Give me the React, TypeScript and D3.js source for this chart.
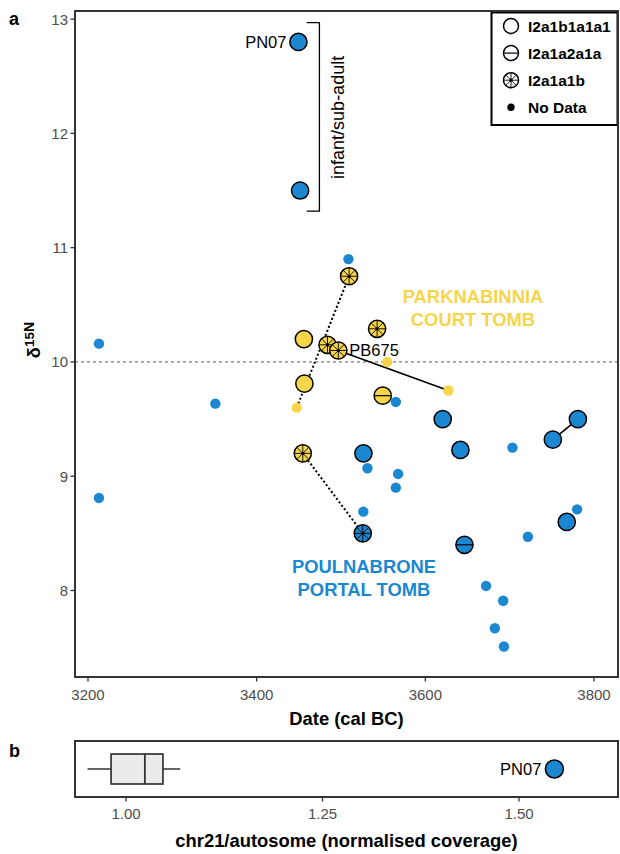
import React from 'react';
import * as d3 from 'd3';

const BLUE = '#1B87D0';
const YELLOW = '#F6D54B';

const HAPLOGROUPS = ['I2a1b1a1a1', 'I2a1a2a1a', 'I2a1a1b', 'No Data'];
const X_TICKS = [3200, 3400, 3600, 3800];
const Y_TICKS = [8, 9, 10, 11, 12, 13];
const B_TICKS = [1.0, 1.25, 1.5];

// Poulnabrone portal tomb: [date cal BC, δ15N, haplogroup]
const poulnabrone: [number, number, string][] = [
  [3449.5, 12.8, 'I2a1b1a1a1'],
  [3451.5, 11.5, 'I2a1b1a1a1'],
  [3526.6, 9.2, 'I2a1b1a1a1'],
  [3620.6, 9.5, 'I2a1b1a1a1'],
  [3641.6, 9.23, 'I2a1b1a1a1'],
  [3751.2, 9.32, 'I2a1b1a1a1'],
  [3780.9, 9.5, 'I2a1b1a1a1'],
  [3767.7, 8.6, 'I2a1b1a1a1'],
  [3646.4, 8.4, 'I2a1a2a1a'],
  [3525.8, 8.5, 'I2a1a1b'],
  [3213, 10.16, 'No Data'],
  [3351, 9.635, 'No Data'],
  [3213, 8.81, 'No Data'],
  [3508.8, 10.9, 'No Data'],
  [3565, 9.65, 'No Data'],
  [3531.4, 9.07, 'No Data'],
  [3567.7, 9.02, 'No Data'],
  [3565, 8.9, 'No Data'],
  [3526.5, 8.69, 'No Data'],
  [3703.3, 9.25, 'No Data'],
  [3780, 8.71, 'No Data'],
  [3721.6, 8.47, 'No Data'],
  [3672, 8.04, 'No Data'],
  [3692.3, 7.91, 'No Data'],
  [3682.4, 7.67, 'No Data'],
  [3693.2, 7.51, 'No Data'],
];

// Parknabinnia court tomb: [date cal BC, δ15N, haplogroup]
const parknabinnia: [number, number, string][] = [
  [3456, 10.2, 'I2a1b1a1a1'],
  [3456.6, 9.81, 'I2a1b1a1a1'],
  [3549.5, 9.705, 'I2a1a2a1a'],
  [3509.6, 10.75, 'I2a1a1b'],
  [3542.8, 10.29, 'I2a1a1b'],
  [3484, 10.15, 'I2a1a1b'],
  [3496.8, 10.1, 'I2a1a1b'],
  [3454.7, 9.2, 'I2a1a1b'],
  [3554.7, 10.0, 'No Data'],
  [3627.4, 9.75, 'No Data'],
  [3447.5, 9.6, 'No Data'],
];

// links between samples: [siteA, idxA, siteB, idxB, style]
const links: [string, number, string, number, string][] = [
  ['PB', 10, 'PB', 3, 'dotted'],
  ['PB', 6, 'PB', 9, 'solid'],
  ['PB', 7, 'PN', 9, 'dotted'],
  ['PN', 5, 'PN', 6, 'solid'],
];

// point labels: [site, idx, text]
const pointLabels: [string, number, string][] = [
  ['PN', 0, 'PN07'],
  ['PB', 6, 'PB675'],
];

// panel b: chr21/autosome box stats
const boxStats = { lo: 0.951, q1: 0.981, median: 1.024, q3: 1.047, hi: 1.069 };
const pn07Coverage = 1.545;

const SANS = 'Liberation Sans, Arial, Helvetica, sans-serif';
const AX = { left: 75, right: 618, top: 11, bottom: 677 };
const BX = { left: 75, right: 618, top: 741, bottom: 797 };

function Sym({ cx, cy, r, hg, fill }: any) {
  if (hg === 'No Data') return <circle cx={cx} cy={cy} r={r} fill={fill} />;
  const inner = r - 0.6;
  return (
    <g>
      <circle cx={cx} cy={cy} r={r} fill={fill} stroke="#000" strokeWidth={1.5} />
      {hg === 'I2a1a2a1a' && (
        <line x1={cx - inner} x2={cx + inner} y1={cy} y2={cy} stroke="#000" strokeWidth={1.2} />
      )}
      {hg === 'I2a1a1b' && (
        <g>
          {[0, 45, 90, 135].map((a) => {
            const rad = (a * Math.PI) / 180;
            const dx = Math.cos(rad) * inner;
            const dy = Math.sin(rad) * inner;
            return (
              <line key={a} x1={cx - dx} y1={cy - dy} x2={cx + dx} y2={cy + dy} stroke="#000" strokeWidth={0.9} />
            );
          })}
          <circle cx={cx} cy={cy} r={1.6} fill="#000" />
        </g>
      )}
    </g>
  );
}

export default function App() {
  const x = d3.scaleLinear().domain([3200, 3800]).range([88, 594]);
  const y = d3.scaleLinear().domain([8, 13]).range([590.5, 19.1]);
  const xb = d3.scaleLinear().domain([1, 1.5]).range([126, 519]);

  const site = (s: string) => (s === 'PN' ? poulnabrone : parknabinnia);
  const col = (s: string) => (s === 'PN' ? BLUE : YELLOW);

  const all: any[] = [];
  poulnabrone.forEach((d, i) => all.push({ s: 'PN', i, d }));
  parknabinnia.forEach((d, i) => all.push({ s: 'PB', i, d }));
  const small = all.filter((p) => p.d[2] === 'No Data');
  const large = all.filter((p) => p.d[2] !== 'No Data');
  // PB675 on top
  large.sort((a, b) => (a.s === 'PB' && a.i === 6 ? 1 : 0) - (b.s === 'PB' && b.i === 6 ? 1 : 0));

  const midB = (BX.top + BX.bottom) / 2;

  return (
    <svg width={620} height={854} style={{ position: 'absolute', left: 0, top: 0 }} fontFamily={SANS}>
      <rect x={0} y={0} width={620} height={854} fill="#fff" />
      {/* panel labels */}
      <text x={9} y={25} fontSize={18} fontWeight="bold">a</text>
      <text x={9} y={757} fontSize={18} fontWeight="bold">b</text>

      {/* reference line */}
      <line x1={AX.left} x2={AX.right} y1={y(10)} y2={y(10)} stroke="#7f7f7f" strokeWidth={1.3} strokeDasharray="3,3" />

      {/* bracket */}
      <path
        d={`M${x(3459.4)},${y(12.97)}H${x(3474.4)}V${y(11.32)}H${x(3459.4)}`}
        fill="none"
        stroke="#000"
        strokeWidth={1.3}
      />
      <text
        transform={`translate(${x(3496.9)},${y(12.14)}) rotate(-90)`}
        textAnchor="middle"
        dominantBaseline="central"
        fontSize={18}
      >
        infant/sub-adult
      </text>

      {/* links */}
      {links.map(([sa, ia, sb, ib, st], k) => {
        const a = site(sa)[ia];
        const b = site(sb)[ib];
        return (
          <line
            key={k}
            x1={x(a[0])}
            y1={y(a[1])}
            x2={x(b[0])}
            y2={y(b[1])}
            stroke="#000"
            strokeWidth={st === 'dotted' ? 2 : 1.7}
            strokeDasharray={st === 'dotted' ? '2,2.3' : undefined}
          />
        );
      })}

      {/* points */}
      {small.map((p, k) => (
        <Sym key={'s' + k} cx={x(p.d[0])} cy={y(p.d[1])} r={5.2} hg={p.d[2]} fill={col(p.s)} />
      ))}
      {large.map((p, k) => (
        <Sym key={'l' + k} cx={x(p.d[0])} cy={y(p.d[1])} r={8.6} hg={p.d[2]} fill={col(p.s)} />
      ))}

      {/* point labels */}
      {pointLabels.map(([s, i, t]) => {
        const d = site(s)[i];
        const isLeft = t === 'PN07';
        return (
          <text
            key={t}
            x={isLeft ? x(d[0]) - 12 : x(d[0]) + 11}
            y={y(d[1]) + (isLeft ? 0 : -1)}
            textAnchor={isLeft ? 'end' : 'start'}
            dominantBaseline="central"
            fontSize={16.5}
          >
            {t}
          </text>
        );
      })}

      {/* site labels */}
      <text x={473} y={303} textAnchor="middle" fontSize={18.4} fontWeight="bold" fill={YELLOW}>
        PARKNABINNIA
      </text>
      <text x={473} y={326} textAnchor="middle" fontSize={18.4} fontWeight="bold" fill={YELLOW}>
        COURT TOMB
      </text>
      <text x={364} y={573} textAnchor="middle" fontSize={18.4} fontWeight="bold" fill={BLUE}>
        POULNABRONE
      </text>
      <text x={364} y={596} textAnchor="middle" fontSize={18.4} fontWeight="bold" fill={BLUE}>
        PORTAL TOMB
      </text>

      {/* legend */}
      <rect x={491.5} y={12.5} width={126} height={112.5} fill="#fff" stroke="#000" strokeWidth={2} />
      {HAPLOGROUPS.map((h, k) => {
        const cy = 26 + k * 27.1;
        return (
          <g key={h}>
            <Sym cx={511} cy={cy} r={h === 'No Data' ? 3.7 : 7.5} hg={h} fill={h === 'No Data' ? '#000' : '#fff'} />
            <text x={528} y={cy} dominantBaseline="central" fontSize={15.5} fontWeight="bold">
              {h}
            </text>
          </g>
        );
      })}

      {/* panel a frame */}
      <rect x={AX.left} y={AX.top} width={AX.right - AX.left} height={AX.bottom - AX.top} fill="none" stroke="#333" strokeWidth={2} />
      {Y_TICKS.map((t) => (
        <g key={t}>
          <line x1={AX.left - 4.5} x2={AX.left} y1={y(t)} y2={y(t)} stroke="#333" strokeWidth={1.3} />
          <text x={AX.left - 7} y={y(t)} textAnchor="end" dominantBaseline="central" fontSize={15} fill="#4d4d4d">
            {t}
          </text>
        </g>
      ))}
      {X_TICKS.map((t) => (
        <g key={t}>
          <line x1={x(t)} x2={x(t)} y1={AX.bottom} y2={AX.bottom + 4.5} stroke="#333" strokeWidth={1.3} />
          <text x={x(t)} y={AX.bottom + 17} textAnchor="middle" dominantBaseline="central" fontSize={15} fill="#4d4d4d">
            {t}
          </text>
        </g>
      ))}
      <text x={(AX.left + AX.right) / 2} y={AX.bottom + 41} textAnchor="middle" dominantBaseline="central" fontSize={18.4} fontWeight="bold">
        Date (cal BC)
      </text>
      <text transform="translate(40,340) rotate(-90)" textAnchor="middle" fontSize={18.4} fontWeight="bold">
        δ<tspan dy={-6} fontSize={13.5}>15</tspan>
        <tspan fontSize={14}>N</tspan>
      </text>

      {/* panel b */}
      <line x1={xb(boxStats.lo)} x2={xb(boxStats.q1)} y1={midB} y2={midB} stroke="#333" strokeWidth={1.5} />
      <line x1={xb(boxStats.q3)} x2={xb(boxStats.hi)} y1={midB} y2={midB} stroke="#333" strokeWidth={1.5} />
      <rect
        x={xb(boxStats.q1)}
        y={midB - 15}
        width={xb(boxStats.q3) - xb(boxStats.q1)}
        height={30}
        fill="#EBEBEB"
        stroke="#333"
        strokeWidth={1.7}
      />
      <line x1={xb(boxStats.median)} x2={xb(boxStats.median)} y1={midB - 15} y2={midB + 15} stroke="#333" strokeWidth={1.8} />
      <Sym cx={xb(pn07Coverage)} cy={midB} r={9} hg="I2a1b1a1a1" fill={BLUE} />
      <text x={xb(pn07Coverage) - 13} y={midB} textAnchor="end" dominantBaseline="central" fontSize={16.5}>
        PN07
      </text>
      <rect x={BX.left} y={BX.top} width={BX.right - BX.left} height={BX.bottom - BX.top} fill="none" stroke="#333" strokeWidth={2} />
      {B_TICKS.map((t) => (
        <g key={t}>
          <line x1={xb(t)} x2={xb(t)} y1={BX.bottom} y2={BX.bottom + 4.5} stroke="#333" strokeWidth={1.3} />
          <text x={xb(t)} y={BX.bottom + 16} textAnchor="middle" dominantBaseline="central" fontSize={15} fill="#4d4d4d">
            {d3.format('.2f')(t)}
          </text>
        </g>
      ))}
      <text x={(BX.left + BX.right) / 2} y={840} textAnchor="middle" dominantBaseline="central" fontSize={18.4} fontWeight="bold">
        chr21/autosome (normalised coverage)
      </text>
    </svg>
  );
}
